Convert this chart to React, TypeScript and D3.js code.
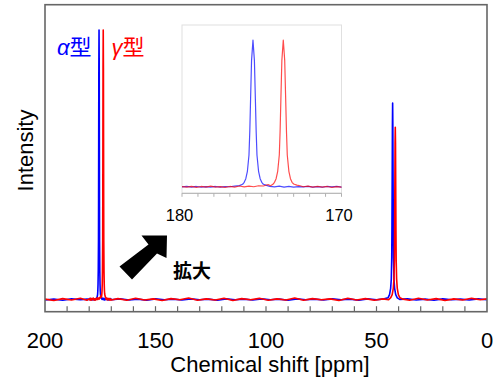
import React from "react";
import * as d3 from "d3";

// ---- data (ppm, intensity) ----
const alphaSpectrum: [number, number][] = [
  [200, 0.2], [196, 0.5], [192, 0.1], [188, 0.6], [184, 0.3], [181, 0.5],
  [180, 0.4], [179.7, 0.8], [179.4, 0.3], [179.1, 0.7], [178.8, 0.2], [178.5, 0.6], [178.2, 0.3], [177.9, 0.7], [177.6, 0.2], [177.3, 0.6], [177.0, 0.5], [176.7, 0.9], [176.4, 1.3],
  [176.2, 2.2], [176.1, 3.5], [176.0, 6], [175.9, 11], [175.8, 22], [175.75, 38], [175.7, 60], [175.64, 86], [175.55, 100], [175.46, 86], [175.4, 60], [175.35, 38], [175.3, 22], [175.2, 11], [175.1, 6], [175.0, 3.5], [174.9, 2.2], [174.7, 1.4], [174.5, 0.8],
  [174.2, 0.4], [173.9, 0.9], [173.6, 0.3], [173.3, 0.8], [173.0, 0.2], [172.7, 0.6], [172.4, 0.4], [172.1, 0.8], [171.8, 0.3], [171.5, 0.6], [171.2, 0.2], [170.9, 0.7], [170.6, 0.4], [170.3, 0.7], [170.0, 0.3],
  [166, 0.6], [162, 0.2], [158, 0.5], [154, 0.1], [150, 0.6], [146, 0.3], [142, 0.5], [138, 0.2], [134, 0.6], [130, 0.3], [126, 0.5], [122, 0.1], [118, 0.6], [114, 0.3], [110, 0.5], [106, 0.2], [102, 0.6], [98, 0.3], [94, 0.5], [90, 0.1], [86, 0.6], [82, 0.3], [78, 0.5], [74, 0.2], [70, 0.6], [66, 0.3], [62, 0.5], [58, 0.1], [54, 0.6], [50, 0.3], [46.5, 0.6],
  [44.8, 1.0], [44.1, 2.2], [43.6, 4.5], [43.3, 8], [43.1, 16], [43.0, 28], [42.9, 45], [42.8, 64], [42.7, 73], [42.6, 64], [42.5, 45], [42.4, 28], [42.3, 16], [42.1, 8], [41.8, 4.5], [41.3, 2.2], [40.6, 1.0],
  [39.5, 0.4], [36, 0.6], [32, 0.2], [28, 0.5], [24, 0.1], [20, 0.6], [16, 0.3], [12, 0.5], [8, 0.2], [4, 0.6], [0, 0.3],
];

const gammaSpectrum: [number, number][] = [
  [200, 0.5], [196, 0.0], [192, 0.7], [188, 0.2], [184, 0.8], [181, 0.1],
  [180, 0.6], [179.7, 0.2], [179.4, 0.8], [179.1, 0.1], [178.8, 0.7], [178.5, 0.3], [178.2, 0.9], [177.9, 0.2], [177.6, 0.6], [177.3, 0.1], [177.0, 0.7], [176.7, 0.3], [176.4, 1.0], [176.1, 0.4], [175.8, 0.9], [175.5, 0.5], [175.2, 1.2], [174.9, 1.0], [174.6, 2.0], [174.45, 1.2],
  [174.3, 2.2], [174.2, 3.5], [174.1, 6], [174.0, 11], [173.9, 22], [173.85, 38], [173.8, 60], [173.74, 86], [173.65, 100], [173.56, 86], [173.5, 60], [173.45, 38], [173.4, 22], [173.3, 11], [173.2, 6], [173.1, 3.5], [173.0, 2.4], [172.8, 1.6], [172.6, 1.2], [172.4, 0.5],
  [172.1, 0.9], [171.8, 0.2], [171.5, 0.8], [171.2, 0.3], [170.9, 0.7], [170.6, 0.1], [170.3, 0.6], [170.0, 0.2],
  [167, 0.7], [163, 0.1], [159, 0.8], [155, 0.2], [151, 0.6], [147, 0.0], [143, 0.7], [139, 0.3], [135, 0.9], [131, 0.1], [127, 0.6], [123, 0.2], [119, 0.8], [115, 0.0], [111, 0.7], [107, 0.3], [103, 0.8], [99, 0.1], [95, 0.6], [91, 0.2], [87, 0.9], [83, 0.1], [79, 0.7], [75, 0.3], [71, 0.6], [67, 0.0], [63, 0.8], [59, 0.2], [55, 0.7], [51, 0.1], [47, 0.6], [44.5, 0.3],
  [43.6, 1.0], [42.9, 2.2], [42.4, 4.5], [42.1, 8], [41.9, 15], [41.8, 26], [41.7, 42], [41.6, 58], [41.5, 64], [41.4, 58], [41.3, 42], [41.2, 26], [41.1, 15], [40.9, 8], [40.6, 4.5], [40.1, 2.2], [39.4, 1.0],
  [38, 0.5], [35, 0.1], [31, 0.8], [27, 0.2], [23, 0.7], [19, 0.0], [15, 0.6], [11, 0.2], [7, 0.8], [3, 0.3], [0, 0.6],
];

const mainTickValues = d3.range(0, 201, 10);
const mainTickLabels = [200, 150, 100, 50, 0];
const insetTickValues = d3.range(170, 181, 1);
const insetTickLabels = [180, 170];

const FONT = "'Liberation Sans', Arial, Helvetica, sans-serif";
const CJK = "'Noto Sans CJK JP', 'Noto Sans CJK SC', sans-serif";

export default function App() {
  const W = 500, H = 383;
  const frame = { left: 45, right: 487, top: 4.7, bottom: 311.7 };
  const x = d3.scaleLinear().domain([200, 0]).range([frame.left, frame.right]);
  const y = d3.scaleLinear().domain([0, 100]).range([300.5, 30]);

  const inset = { left: 182, right: 341.5, top: 25, bottom: 193.3 };
  const xi = d3.scaleLinear().domain([180, 170]).range([inset.left, inset.right]);
  const yi = d3.scaleLinear().domain([0, 100]).range([187.5, 40]);

  const mainLine = d3.line<[number, number]>().x((d) => x(d[0])).y((d) => y(d[1]));
  const insetLine = d3.line<[number, number]>().x((d) => xi(d[0])).y((d) => yi(d[1]));

  const arrowPts = [
    [167, 235.5], [141.5, 235.5], [148.5, 244.5], [119.5, 266.5], [132, 279.5], [157, 253.5], [166.5, 258],
  ];

  return (
    <svg width={W} height={H} style={{ position: "absolute", left: 0, top: 0, background: "#fff" }} fontFamily={FONT}>
      <defs>
        <clipPath id="mainClip">
          <rect x={frame.left} y={frame.top} width={frame.right - frame.left} height={frame.bottom - frame.top} />
        </clipPath>
        <clipPath id="insetClip">
          <rect x={inset.left} y={inset.top} width={inset.right - inset.left} height={inset.bottom - inset.top} />
        </clipPath>
      </defs>
      <rect x={0} y={0} width={W} height={H} fill="#fff" />

      {/* main spectra */}
      <g clipPath="url(#mainClip)">
        <path d={mainLine(alphaSpectrum) || ""} fill="none" stroke="#0000ff" strokeWidth={1.6} strokeLinejoin="round" />
        <path d={mainLine(gammaSpectrum) || ""} fill="none" stroke="#ff0000" strokeWidth={1.6} strokeLinejoin="round" />
      </g>

      {/* main frame */}
      <rect x={frame.left} y={frame.top} width={frame.right - frame.left} height={frame.bottom - frame.top}
        fill="none" stroke="#666" strokeWidth={1.6} />
      {mainTickValues.filter((v) => v !== 0 && v !== 200).map((v) => (
        <line key={v} x1={x(v)} x2={x(v)} y1={frame.bottom} y2={frame.bottom - 5.5} stroke="#666" strokeWidth={1.2} />
      ))}
      {mainTickLabels.map((v) => (
        <text key={v} x={x(v)} y={348} fontSize={22} textAnchor="middle" fill="#000">{v}</text>
      ))}
      <text x={270} y={372} fontSize={22} textAnchor="middle" fill="#000">Chemical shift [ppm]</text>
      <text transform="translate(33,150.5) rotate(-90)" fontSize={22} textAnchor="middle" fill="#000">Intensity</text>

      {/* legend labels */}
      <text x={57} y={54.5} fontSize={22} fill="#0000ff">
        <tspan fontStyle="italic" fontFamily={FONT}>α</tspan>
        <tspan fontFamily={CJK}>型</tspan>
      </text>
      <text x={111.5} y={54.5} fontSize={22} fill="#ff0000">
        <tspan fontStyle="italic" fontFamily={FONT}>γ</tspan>
        <tspan fontFamily={CJK}>型</tspan>
      </text>

      {/* inset */}
      <rect x={inset.left} y={inset.top} width={inset.right - inset.left} height={inset.bottom - inset.top}
        fill="#fff" stroke="#e0e0e0" strokeWidth={1} />
      <g clipPath="url(#insetClip)">
        <path d={insetLine(alphaSpectrum) || ""} fill="none" stroke="#0000ff" strokeOpacity={0.7} strokeWidth={1.2} strokeLinejoin="round" />
        <path d={insetLine(gammaSpectrum) || ""} fill="none" stroke="#ff0000" strokeOpacity={0.7} strokeWidth={1.2} strokeLinejoin="round" />
      </g>
      <line x1={inset.left} x2={inset.right} y1={inset.bottom} y2={inset.bottom} stroke="#b0b0b0" strokeWidth={1} />
      {insetTickValues.map((v) => (
        <line key={v} x1={xi(v)} x2={xi(v)} y1={inset.bottom} y2={inset.bottom + 3.5} stroke="#b0b0b0" strokeWidth={1} />
      ))}
      {insetTickLabels.map((v) => (
        <text key={v} x={xi(v) - 2.5} y={220.5} fontSize={16.5} textAnchor="middle" fill="#000">{v}</text>
      ))}

      {/* arrow & label */}
      <polygon points={arrowPts.map((p) => p.join(",")).join(" ")} fill="#000" />
      <text x={173} y={278} fontSize={19} fontWeight="bold" fontFamily={CJK} fill="#000">拡大</text>
    </svg>
  );
}
